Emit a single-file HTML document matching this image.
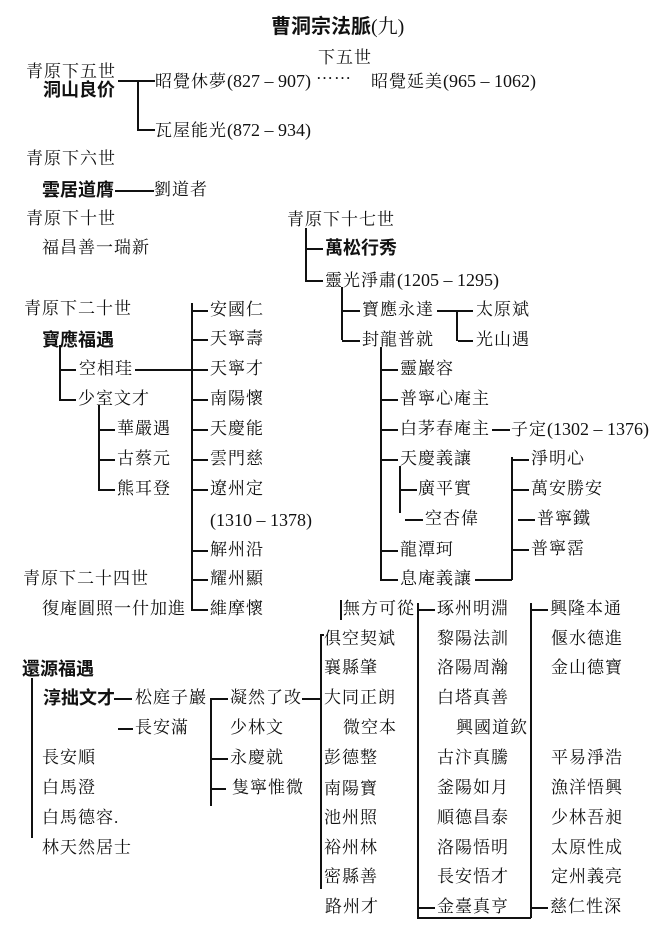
<!DOCTYPE html>
<html><head><meta charset="utf-8">
<style>
body{margin:0;background:#fff;}
#c{position:relative;width:669px;height:945px;overflow:hidden;background:#fff;font-family:"Liberation Serif","Noto Serif CJK SC","Noto Sans CJK SC",serif;color:#111;}
.t{position:absolute;font-size:17px;line-height:20px;white-space:nowrap;letter-spacing:1px;}
.b{font-family:"Liberation Sans","Noto Sans CJK SC",sans-serif;font-weight:bold;letter-spacing:0px;}
.n{letter-spacing:0;font-size:18px;}
.h{position:absolute;height:1.6px;background:#111;}
.v{position:absolute;width:1.6px;background:#111;}
</style></head><body><div id="c">
<div class="t b" style="left:271px;top:15px;font-size:20px;line-height:24px;">曹洞宗法脈<span style="font-weight:normal;font-family:'Liberation Serif','Noto Serif CJK SC',serif">(九)</span></div>
<div class="t" style="left:318px;top:48px;">下五世</div>
<div class="t" style="left:26px;top:62px;">青原下五世</div>
<div class="t b" style="left:43px;top:80px;font-size:18px;">洞山良价</div>
<div class="h" style="left:118px;top:80px;width:37px"></div>
<div class="v" style="left:137px;top:80px;height:50px"></div>
<div class="h" style="left:137px;top:129px;width:18px"></div>
<div class="t" style="left:155px;top:71px;">昭覺休夢<span class="n">(827 – 907)</span></div>
<div class="t" style="left:316px;top:64px;">……</div>
<div class="t" style="left:371px;top:71px;">昭覺延美<span class="n">(965 – 1062)</span></div>
<div class="t" style="left:155px;top:120px;">瓦屋能光<span class="n">(872 – 934)</span></div>
<div class="t" style="left:26px;top:149px;">青原下六世</div>
<div class="t b" style="left:42px;top:180px;font-size:18px;">雲居道膺</div>
<div class="h" style="left:115px;top:190px;width:39px"></div>
<div class="t" style="left:154px;top:180px;">劉道者</div>
<div class="t" style="left:26px;top:209px;">青原下十世</div>
<div class="t" style="left:42px;top:238px;">福昌善一瑞新</div>
<div class="t" style="left:287px;top:210px;">青原下十七世</div>
<div class="v" style="left:305px;top:228px;height:52px"></div>
<div class="h" style="left:305px;top:248px;width:18px"></div>
<div class="t b" style="left:325px;top:238px;font-size:18px;">萬松行秀</div>
<div class="h" style="left:305px;top:280px;width:18px"></div>
<div class="t" style="left:325px;top:270px;">靈光淨肅<span class="n">(1205 – 1295)</span></div>
<div class="v" style="left:341px;top:287px;height:53px"></div>
<div class="h" style="left:341px;top:310px;width:19px"></div>
<div class="t" style="left:362px;top:300px;">寶應永達</div>
<div class="h" style="left:437px;top:310px;width:36px"></div>
<div class="v" style="left:456px;top:310px;height:31px"></div>
<div class="t" style="left:476px;top:300px;">太原斌</div>
<div class="h" style="left:458px;top:340px;width:15px"></div>
<div class="t" style="left:476px;top:330px;">光山遇</div>
<div class="h" style="left:342px;top:340px;width:18px"></div>
<div class="t" style="left:362px;top:330px;">封龍普就</div>
<div class="v" style="left:380px;top:347px;height:232px"></div>
<div class="h" style="left:380px;top:369px;width:18px"></div><div class="t" style="left:400px;top:359px;">靈巖容</div>
<div class="h" style="left:380px;top:399px;width:18px"></div><div class="t" style="left:400px;top:389px;">普寧心庵主</div>
<div class="h" style="left:380px;top:429px;width:18px"></div><div class="t" style="left:400px;top:419px;">白茅春庵主</div>
<div class="h" style="left:492px;top:429px;width:18px"></div><div class="t" style="left:511px;top:419px;">子定<span class="n">(1302 – 1376)</span></div>
<div class="h" style="left:380px;top:459px;width:18px"></div><div class="t" style="left:400px;top:449px;">天慶義讓</div>
<div class="v" style="left:399px;top:466px;height:47px"></div>
<div class="h" style="left:399px;top:489px;width:18px"></div><div class="t" style="left:418px;top:479px;">廣平實</div>
<div class="h" style="left:405px;top:519px;width:18px"></div><div class="t" style="left:425px;top:509px;">空杏偉</div>
<div class="h" style="left:380px;top:550px;width:18px"></div><div class="t" style="left:400px;top:540px;">龍潭珂</div>
<div class="h" style="left:380px;top:579px;width:18px"></div><div class="t" style="left:400px;top:569px;">息庵義讓</div>
<div class="h" style="left:475px;top:579px;width:37px"></div>
<div class="v" style="left:511px;top:457px;height:123px"></div>
<div class="h" style="left:511px;top:459px;width:18px"></div><div class="t" style="left:531px;top:449px;">淨明心</div>
<div class="h" style="left:511px;top:489px;width:18px"></div><div class="t" style="left:531px;top:479px;">萬安勝安</div>
<div class="h" style="left:518px;top:519px;width:17px"></div><div class="t" style="left:537px;top:509px;">普寧鐵</div>
<div class="h" style="left:511px;top:549px;width:18px"></div><div class="t" style="left:531px;top:539px;">普寧霑</div>

<div class="t" style="left:24px;top:299px;">青原下二十世</div>
<div class="t b" style="left:42px;top:330px;font-size:18px;">寶應福遇</div>
<div class="v" style="left:59px;top:345px;height:54px"></div>
<div class="h" style="left:59px;top:369px;width:17px"></div><div class="t" style="left:79px;top:359px;">空相珪</div>
<div class="h" style="left:135px;top:369px;width:56px"></div>
<div class="h" style="left:59px;top:399px;width:17px"></div><div class="t" style="left:78px;top:389px;">少室文才</div>
<div class="v" style="left:98px;top:405px;height:84px"></div>
<div class="h" style="left:98px;top:429px;width:17px"></div><div class="t" style="left:117px;top:419px;">華嚴遇</div>
<div class="h" style="left:98px;top:459px;width:17px"></div><div class="t" style="left:117px;top:449px;">古蔡元</div>
<div class="h" style="left:98px;top:489px;width:17px"></div><div class="t" style="left:117px;top:479px;">熊耳登</div>
<div class="v" style="left:191px;top:303px;height:307px"></div>
<div class="h" style="left:191px;top:310px;width:17px"></div><div class="t" style="left:210px;top:300px;">安國仁</div>
<div class="h" style="left:191px;top:339px;width:17px"></div><div class="t" style="left:210px;top:329px;">天寧壽</div>
<div class="h" style="left:191px;top:369px;width:17px"></div><div class="t" style="left:210px;top:359px;">天寧才</div>
<div class="h" style="left:191px;top:399px;width:17px"></div><div class="t" style="left:210px;top:389px;">南陽懷</div>
<div class="h" style="left:191px;top:429px;width:17px"></div><div class="t" style="left:210px;top:419px;">天慶能</div>
<div class="h" style="left:191px;top:459px;width:17px"></div><div class="t" style="left:210px;top:449px;">雲門慈</div>
<div class="h" style="left:191px;top:489px;width:17px"></div><div class="t" style="left:210px;top:479px;">遼州定</div>
<div class="t n" style="left:210px;top:510px;">(1310 – 1378)</div>
<div class="h" style="left:191px;top:550px;width:17px"></div><div class="t" style="left:210px;top:540px;">解州沿</div>
<div class="h" style="left:191px;top:579px;width:17px"></div><div class="t" style="left:210px;top:569px;">耀州顯</div>
<div class="h" style="left:191px;top:609px;width:17px"></div><div class="t" style="left:210px;top:599px;">維摩懷</div>
<div class="t" style="left:23px;top:569px;">青原下二十四世</div>
<div class="t" style="left:42px;top:599px;">復庵圓照一什加進</div>

<div class="v" style="left:340px;top:600px;height:20px"></div>
<div class="t" style="left:343px;top:599px;">無方可從</div>
<div class="v" style="left:417px;top:603px;height:315px"></div>
<div class="v" style="left:530px;top:603px;height:315px"></div>
<div class="h" style="left:417px;top:917px;width:114px"></div>
<div class="h" style="left:417px;top:609px;width:18px"></div><div class="t" style="left:437px;top:599px;">琢州明淵</div>
<div class="t" style="left:437px;top:629px;">黎陽法訓</div>
<div class="t" style="left:437px;top:658px;">洛陽周瀚</div>
<div class="t" style="left:437px;top:688px;">白塔真善</div>
<div class="t" style="left:456px;top:718px;">興國道欽</div>
<div class="t" style="left:437px;top:748px;">古汴真騰</div>
<div class="t" style="left:437px;top:778px;">釜陽如月</div>
<div class="t" style="left:437px;top:808px;">順德昌泰</div>
<div class="t" style="left:437px;top:838px;">洛陽悟明</div>
<div class="t" style="left:437px;top:867px;">長安悟才</div>
<div class="h" style="left:417px;top:907px;width:18px"></div><div class="t" style="left:437px;top:897px;">金臺真亨</div>
<div class="h" style="left:530px;top:609px;width:18px"></div><div class="t" style="left:550px;top:599px;">興隆本通</div>
<div class="t" style="left:551px;top:629px;">偃水德進</div>
<div class="t" style="left:551px;top:658px;">金山德寶</div>
<div class="t" style="left:551px;top:748px;">平易淨浩</div>
<div class="t" style="left:551px;top:778px;">漁洋悟興</div>
<div class="t" style="left:551px;top:808px;">少林吾昶</div>
<div class="t" style="left:551px;top:838px;">太原性成</div>
<div class="t" style="left:551px;top:867px;">定州義亮</div>
<div class="h" style="left:530px;top:907px;width:18px"></div><div class="t" style="left:550px;top:897px;">慈仁性深</div>

<div class="v" style="left:320px;top:634px;height:255px"></div>
<div class="h" style="left:320px;top:634px;width:4px"></div>
<div class="t" style="left:324px;top:629px;">俱空契斌</div>
<div class="t" style="left:324px;top:658px;">襄縣肇</div>
<div class="h" style="left:302px;top:698px;width:20px"></div><div class="t" style="left:324px;top:688px;">大同正朗</div>
<div class="t" style="left:343px;top:718px;">微空本</div>
<div class="t" style="left:324px;top:748px;">彭德整</div>
<div class="t" style="left:324px;top:779px;">南陽寶</div>
<div class="t" style="left:324px;top:808px;">池州照</div>
<div class="t" style="left:324px;top:838px;">裕州林</div>
<div class="t" style="left:324px;top:867px;">密縣善</div>
<div class="t" style="left:325px;top:897px;">路州才</div>

<div class="t b" style="left:22px;top:659px;font-size:18px;">還源福遇</div>
<div class="v" style="left:31px;top:678px;height:160px"></div>
<div class="t b" style="left:43px;top:688px;font-size:18px;">淳拙文才</div>
<div class="h" style="left:114px;top:698px;width:18px"></div><div class="t" style="left:135px;top:688px;">松庭子巖</div>
<div class="v" style="left:210px;top:698px;height:108px"></div>
<div class="h" style="left:210px;top:698px;width:18px"></div><div class="t" style="left:230px;top:688px;">凝然了改</div>
<div class="h" style="left:118px;top:728px;width:15px"></div><div class="t" style="left:135px;top:718px;">長安滿</div>
<div class="t" style="left:230px;top:718px;">少林文</div>
<div class="h" style="left:210px;top:758px;width:18px"></div><div class="t" style="left:230px;top:748px;">永慶就</div>
<div class="h" style="left:210px;top:788px;width:16px"></div><div class="t" style="left:232px;top:778px;">隻寧惟微</div>
<div class="t" style="left:42px;top:748px;">長安順</div>
<div class="t" style="left:42px;top:778px;">白馬澄</div>
<div class="t" style="left:42px;top:808px;">白馬德容.</div>
<div class="t" style="left:42px;top:838px;">林天然居士</div>
</div></body></html>
